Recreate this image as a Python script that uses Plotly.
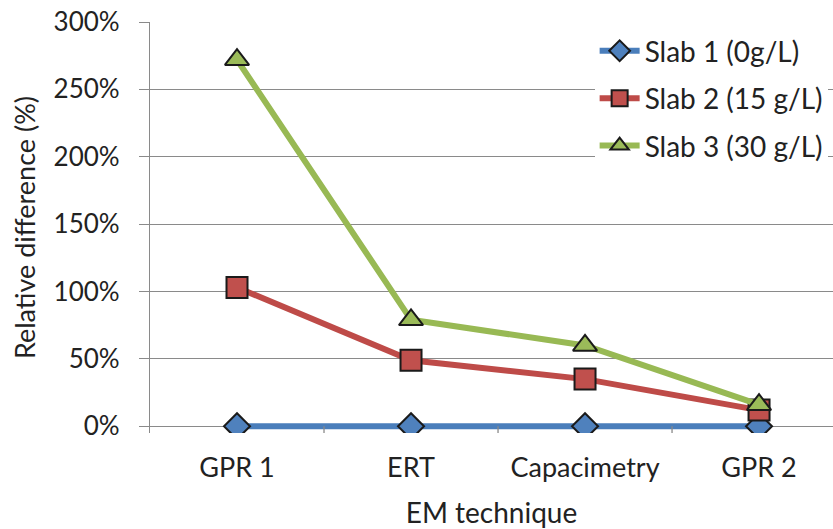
import plotly.graph_objects as go

techniques = ["GPR 1", "ERT", "Capacimetry", "GPR 2"]
slab1 = [0, 0, 0, 0]
slab2 = [103, 49, 35, 12]
slab3 = [272, 79, 60, 16]
y_ticks = [0, 50, 100, 150, 200, 250, 300]
y_labels = [f"{v}%" for v in y_ticks]

series = [
    ("Slab 1 (0g/L)", slab1, "#4A7EBB", "#4F81BD", "diamond", 20),
    ("Slab 2 (15 g/L)", slab2, "#BE4B48", "#C0504D", "square", 21),
    ("Slab 3 (30 g/L)", slab3, "#98B954", "#9BBB59", "triangle-up", 21),
]

fig = go.Figure()
for name, vals, line_c, fill_c, sym, size in series:
    fig.add_trace(go.Scatter(
        x=list(range(len(techniques))), y=vals, name=name, legendgroup=name,
        mode="lines+markers",
        line=dict(color=line_c, width=6),
        marker=dict(symbol=sym, size=size, color=fill_c,
                    line=dict(color="#1a1a1a", width=2)),
    ))

font = "Lato, 'Open Sans', sans-serif"
axis_grey = "#8a8a8a"
fig.update_layout(
    width=833, height=529,
    margin=dict(l=150, r=0, t=22, b=96),
    paper_bgcolor="white", plot_bgcolor="white",
    font=dict(family=font, size=28, color="#222"),
    showlegend=True,
    legend=dict(x=0.651, y=0.99, xanchor="left", yanchor="top",
                bgcolor="white", font=dict(size=28, color="#222"),
                itemwidth=40, tracegroupgap=8),
    xaxis=dict(
        range=[-0.5, 3.425], tickmode="array",
        tickvals=list(range(len(techniques))), ticktext=techniques,
        showgrid=False, zeroline=False, showline=False,
        ticks="", ticklabelstandoff=16, tickfont=dict(size=27),
        title=dict(text="EM technique", standoff=23, font=dict(size=28)),
    ),
    yaxis=dict(
        range=[-5, 300], tickmode="array", tickvals=y_ticks, ticktext=y_labels,
        showgrid=True, gridcolor=axis_grey, gridwidth=1.3,
        zeroline=False, showline=True, linecolor=axis_grey, linewidth=1.3,
        ticks="outside", ticklen=10, tickcolor=axis_grey,
        ticklabelstandoff=14, tickfont=dict(size=26),
        title=dict(text="Relative difference (%)", standoff=10,
                   font=dict(size=27)),
    ),
)

# category separator tick marks below the zero line
for b in [0.5, 1.5, 2.5]:
    fig.add_shape(type="line", xref="x", yref="y", x0=b, x1=b,
                  y0=-5, y1=0, line=dict(color=axis_grey, width=1.3))

fig.write_html("out.html")
